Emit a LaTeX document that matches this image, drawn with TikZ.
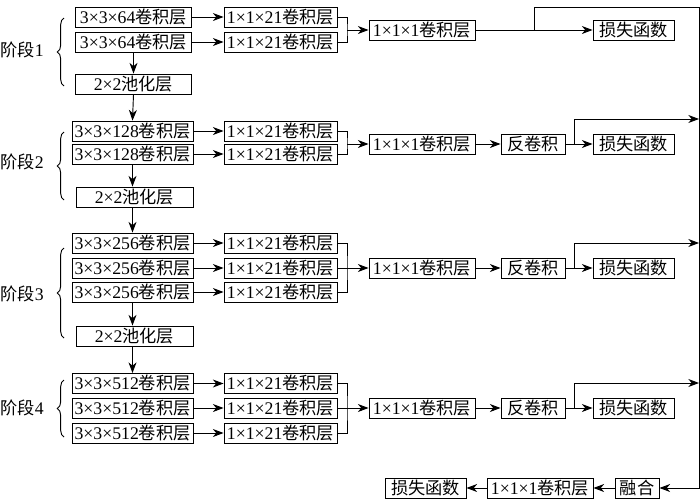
\documentclass[tikz,border=0pt]{standalone}
\usepackage{fontspec}
\setmainfont{Liberation Serif}
\newfontfamily\cjk[Scale=0.97]{Noto Sans CJK SC}
\usepackage{tikz}
\usetikzlibrary{arrows.meta,decorations.pathreplacing}
\tikzstyle{block} = [rectangle, draw=black, line width=0.7pt, minimum height=15pt, inner sep=1pt, text centered, font=\fontsize{13.3pt}{14pt}\selectfont]
\tikzstyle{arrow} = [line width=0.7pt, -{Stealth[length=8pt,width=6pt,inset=2.5pt]}, color=black]
\tikzstyle{link} = [line width=0.7pt, color=black]
\tikzstyle{bracket} = [decorate, decoration={brace,amplitude=5pt}, line width=0.7pt]
\tikzstyle{stagelabel} = [font=\fontsize{13.3pt}{14pt}\selectfont]
\begin{document}
\begin{tikzpicture}[x=0.75pt, y=-0.75pt]
\useasboundingbox (0,0) rectangle (700,500);
% Stage 1
\node[stagelabel] (s1) at (22,50) {{\cjk 阶段}1};
\draw[bracket] (64,86) -- (64,18);
\node[block, minimum width=87pt] (c11) at (133.5,17) {3×3×64{\cjk 卷积层}};
\node[block, minimum width=87pt] (c12) at (133.5,42) {3×3×64{\cjk 卷积层}};
\node[block, minimum width=87pt] (p1) at (133.5,84) {2×2{\cjk 池化层}};
\node[block, minimum width=84.75pt] (k11) at (280.5,17) {1×1×21{\cjk 卷积层}};
\node[block, minimum width=84.75pt] (k12) at (280.5,42) {1×1×21{\cjk 卷积层}};
\node[block, minimum width=79.5pt] (m1) at (422,30) {1×1×1{\cjk 卷积层}};
\node[block, minimum width=60.75pt] (l1) at (633.5,30) {\cjk 损失函数};
\coordinate (j1) at (347,30);
\coordinate (b1) at (534,30);
\coordinate (top) at (699,7);
% Stage 2
\node[stagelabel] (s2) at (22,162) {{\cjk 阶段}2};
\draw[bracket] (64,200) -- (64,132);
\node[block, minimum width=90.75pt] (c21) at (132.5,131) {3×3×128{\cjk 卷积层}};
\node[block, minimum width=90.75pt] (c22) at (132.5,154) {3×3×128{\cjk 卷积层}};
\node[block, minimum width=87.75pt] (p2) at (134.5,197) {2×2{\cjk 池化层}};
\node[block, minimum width=84.75pt] (k21) at (280.5,131) {1×1×21{\cjk 卷积层}};
\node[block, minimum width=84.75pt] (k22) at (280.5,154) {1×1×21{\cjk 卷积层}};
\node[block, minimum width=79.5pt] (m2) at (422,144) {1×1×1{\cjk 卷积层}};
\node[block, minimum width=48pt] (d2) at (533,144) {\cjk 反卷积};
\node[block, minimum width=60.75pt] (l2) at (633.5,144) {\cjk 损失函数};
\coordinate (j2) at (347,144);
\coordinate (b2) at (574,144);
\coordinate (e2) at (699,119);
% Stage 3
\node[stagelabel] (s3) at (22,294) {{\cjk 阶段}3};
\draw[bracket] (64,338) -- (64,248);
\node[block, minimum width=90.75pt] (c31) at (132.5,243) {3×3×256{\cjk 卷积层}};
\node[block, minimum width=90.75pt] (c32) at (132.5,268) {3×3×256{\cjk 卷积层}};
\node[block, minimum width=90.75pt] (c33) at (132.5,292) {3×3×256{\cjk 卷积层}};
\node[block, minimum width=87.75pt] (p3) at (134.5,336) {2×2{\cjk 池化层}};
\node[block, minimum width=84.75pt] (k31) at (280.5,243) {1×1×21{\cjk 卷积层}};
\node[block, minimum width=84.75pt] (k32) at (280.5,268) {1×1×21{\cjk 卷积层}};
\node[block, minimum width=84.75pt] (k33) at (280.5,292) {1×1×21{\cjk 卷积层}};
\node[block, minimum width=79.5pt] (m3) at (422,268) {1×1×1{\cjk 卷积层}};
\node[block, minimum width=48pt] (d3) at (533,268) {\cjk 反卷积};
\node[block, minimum width=60.75pt] (l3) at (633.5,268) {\cjk 损失函数};
\coordinate (j3) at (347,268);
\coordinate (b3) at (574,268);
\coordinate (e3) at (699,243);
% Stage 4
\node[stagelabel] (s4) at (22,408) {{\cjk 阶段}4};
\draw[bracket] (64,437) -- (64,380);
\node[block, minimum width=90.75pt] (c41) at (132.5,383.5) {3×3×512{\cjk 卷积层}};
\node[block, minimum width=90.75pt] (c42) at (132.5,408) {3×3×512{\cjk 卷积层}};
\node[block, minimum width=90.75pt] (c43) at (132.5,433) {3×3×512{\cjk 卷积层}};
\node[block, minimum width=84.75pt] (k41) at (280.5,383.5) {1×1×21{\cjk 卷积层}};
\node[block, minimum width=84.75pt] (k42) at (280.5,408) {1×1×21{\cjk 卷积层}};
\node[block, minimum width=84.75pt] (k43) at (280.5,433) {1×1×21{\cjk 卷积层}};
\node[block, minimum width=79.5pt] (m4) at (422,408) {1×1×1{\cjk 卷积层}};
\node[block, minimum width=48pt] (d4) at (533,408) {\cjk 反卷积};
\node[block, minimum width=60.75pt] (l4) at (633.5,408) {\cjk 损失函数};
\coordinate (j4) at (347,408);
\coordinate (b4) at (574,408);
\coordinate (e4) at (699,383);
% Fusion
\node[block, minimum width=33pt] (fuse) at (637,488) {\cjk 融合};
\node[block, minimum width=79.5pt] (m5) at (540,488) {1×1×1{\cjk 卷积层}};
\node[block, minimum width=60.75pt] (l5) at (425.5,488) {\cjk 损失函数};
% Connections
\draw[arrow] (c11.east) -- (k11.west);
\draw[arrow] (c12.east) -- (k12.west);
\draw[arrow] (c12.south) -- (p1.north);
\draw[link] (k11.east) -| (j1) |- (k12.east);
\draw[arrow] (j1) -- (m1.west);
\draw[arrow] (m1.east) -- (l1.west);
\draw[arrow] (b1) |- (top) |- (fuse.east);
\draw[arrow] (p1.south) -- (c21.north);
\draw[arrow] (c21.east) -- (k21.west);
\draw[arrow] (c22.east) -- (k22.west);
\draw[arrow] (c22.south) -- (p2.north -| c22.south);
\draw[link] (k21.east) -| (j2) |- (k22.east);
\draw[arrow] (j2) -- (m2.west);
\draw[arrow] (m2.east) -- (d2.west);
\draw[arrow] (d2.east) -- (l2.west);
\draw[arrow] (b2) |- (e2);
\draw[arrow] (p2.south -| c31.north) -- (c31.north);
\draw[arrow] (c31.east) -- (k31.west);
\draw[arrow] (c32.east) -- (k32.west);
\draw[arrow] (c33.east) -- (k33.west);
\draw[arrow] (c33.south) -- (p3.north -| c33.south);
\draw[link] (k31.east) -| (j3) |- (k33.east);
\draw[arrow] (k32.east) -- (m3.west);
\draw[arrow] (m3.east) -- (d3.west);
\draw[arrow] (d3.east) -- (l3.west);
\draw[arrow] (b3) |- (e3);
\draw[arrow] (p3.south -| c41.north) -- (c41.north);
\draw[arrow] (c41.east) -- (k41.west);
\draw[arrow] (c42.east) -- (k42.west);
\draw[arrow] (c43.east) -- (k43.west);
\draw[link] (k41.east) -| (j4) |- (k43.east);
\draw[arrow] (k42.east) -- (m4.west);
\draw[arrow] (m4.east) -- (d4.west);
\draw[arrow] (d4.east) -- (l4.west);
\draw[arrow] (b4) |- (e4);
\draw[arrow] (fuse.west) -- (m5.east);
\draw[arrow] (m5.west) -- (l5.east);
\end{tikzpicture}
\end{document}
